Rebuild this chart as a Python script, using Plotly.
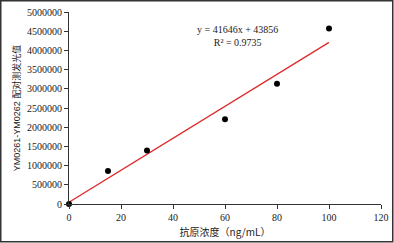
import plotly.graph_objects as go

conc = [0, 15, 30, 60, 80, 100]
signal = [0, 860000, 1390000, 2210000, 3130000, 4570000]
slope = 41646
intercept = 43856
fit_x = [0, 100]
fit_y = [slope * x + intercept for x in fit_x]
eq_text = "y = 41646x + 43856<br>R² = 0.9735"

W, H = 394, 243
L, R, T, B = 69, 13, 12, 39
pw, ph = W - L - R, H - T - B

fig = go.Figure()
fig.add_trace(go.Scatter(x=fit_x, y=fit_y, mode="lines",
                         line=dict(color="#e0282a", width=1.3), showlegend=False))
fig.add_trace(go.Scatter(x=conc, y=signal, mode="markers",
                         marker=dict(color="black", size=6), showlegend=False,
                         cliponaxis=False))

font_serif = "Liberation Serif, Noto Sans CJK SC, serif"
fig.update_layout(
    width=W, height=H,
    margin=dict(l=L, r=R, t=T, b=B),
    paper_bgcolor="white", plot_bgcolor="white",
    font=dict(family=font_serif, size=10, color="#222"),
    xaxis=dict(range=[0, 120], tickvals=[0, 20, 40, 60, 80, 100, 120],
               automargin=False,
               showgrid=False, zeroline=False, showline=True, linecolor="#333",
               linewidth=1, ticks="outside", ticklen=4, tickcolor="#333",
               tickfont=dict(size=10, family=font_serif),
               title=dict(text="抗原浓度（ng/mL）", standoff=6,
                          font=dict(size=10, family="Noto Sans CJK SC, Liberation Serif"))),
    yaxis=dict(range=[0, 5000000], dtick=500000, tickformat="d",
               automargin=False,
               showgrid=False, zeroline=False, showline=True, linecolor="#333",
               linewidth=1, ticks="outside", ticklen=4, tickcolor="#333",
               tickfont=dict(size=10, family=font_serif),
               title=dict(text="YM0261-YM0262 配对测发光值", standoff=4,
                          font=dict(size=9, family="Liberation Sans, Noto Sans CJK SC"))),
    annotations=[dict(x=0.54, y=0.875, xref="paper", yref="paper",
                      text=eq_text, showarrow=False, align="center",
                      xanchor="center", yanchor="middle",
                      font=dict(size=10, family=font_serif, color="#222"))],
    shapes=[dict(type="rect", xref="paper", yref="paper",
                 x0=(0.75 - L) / pw, x1=(W - 1.25 - L) / pw,
                 y0=-(H - 1.25 - T - ph) / ph, y1=1 + (T - 0.75) / ph,
                 line=dict(color="#333", width=1.5), layer="above")],
)
fig.write_html("out.html")
